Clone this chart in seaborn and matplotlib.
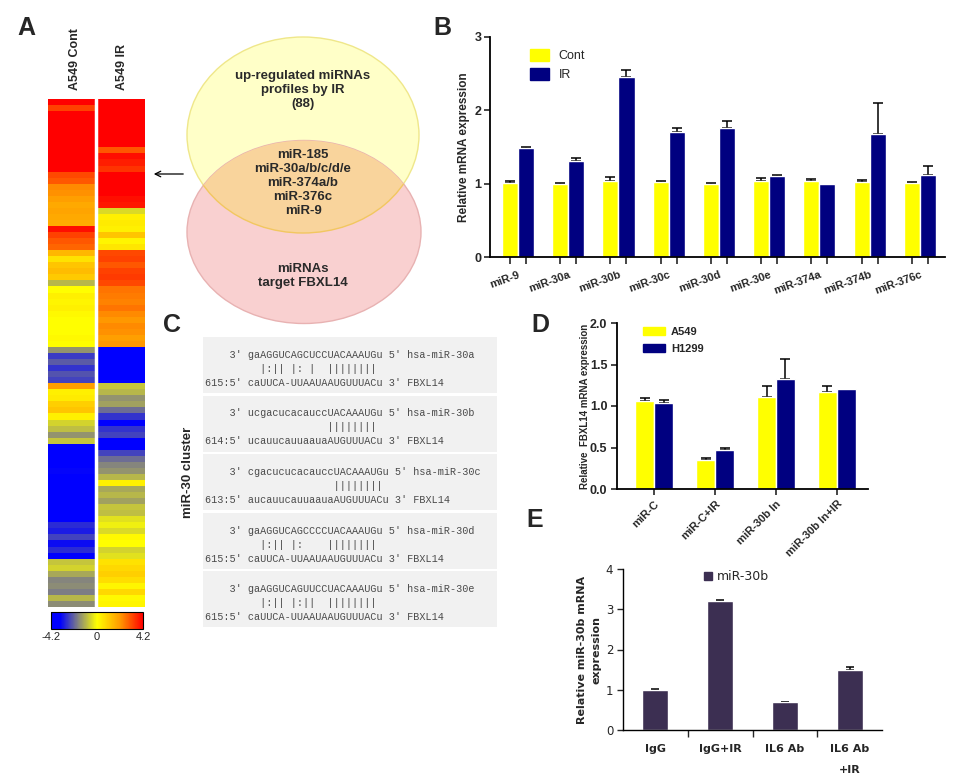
import pandas as pd
import seaborn as sns
import matplotlib.pyplot as plt
from matplotlib.colors import LinearSegmentedColormap
from matplotlib.patches import Ellipse, Rectangle, Patch
from matplotlib.container import BarContainer

sns.set_style('white')
plt.rcParams['font.family'] = ['Liberation Sans', 'DejaVu Sans']

W, H = 976, 783

# ---- A: heatmap (log2 values, -4.2 .. 4.2) ----
heat_cols = ['A549 Cont', 'A549 IR']
heat_cont = [4.2, 3.3, 4.2, 4.2, 4.2, 4.2, 4.2, 4.2, 4.2, 4.2, 4.2, 4.2,
             3.2, 3.0, 2.3, 2.2, 2.0, 1.8, 1.9, 1.8, 1.7,
             4.0, 3.3, 3.0, 2.8, 1.5, 0.6, 1.2, 1.4, 1.1,
             -1.0, 0.0, 0.3, 0.2, 0.3, 0.1, 0.0, 0.0, 0.0, 0.1, 0.0,
             -1.5, -2.6, -2.2, -2.7, -2.3, -2.5,
             2.0, 0.3, 0.4, 1.0, 1.2, 0.3, -0.6, -0.9, -1.5, -0.8,
             -3.5, -4.2, -4.2, -4.2, -3.3, -3.6, -4.2, -4.2, -4.2, -4.2, -4.2, -4.2, -4.2,
             -2.8, -3.0, -2.5, -3.2, -2.8, -3.4,
             -0.8, -0.6, -1.2, -1.7, -1.6, -1.8, -1.0, -1.6]
heat_ir = [4.2, 4.2, 4.2, 4.2, 4.2, 4.2, 4.2, 4.2,
           3.0, 4.0, 3.8, 3.5, 4.2, 4.2, 4.2, 4.2, 4.0, 3.9,
           -0.5, 0.3, 0.4, 0.3, 1.2, 0.2, 0.5,
           3.2, 3.3, 3.0, 3.3, 3.4, 3.2,
           2.6, 2.5, 2.4, 2.6, 2.3, 2.1, 2.3, 2.2, 2.0, 2.1,
           -4.2, -4.2, -4.2, -4.2, -4.2, -4.2,
           -0.8, -1.0, -1.5, -1.3, -2.0, -2.7, -4.0, -2.7, -2.5, -3.8,
           -4.0, -2.5, -2.0, -1.7, -1.5, -1.0, 0.3,
           -1.2, -1.0, -1.3, -0.8, -0.9, -0.4, -0.2, -0.5, 0.1, 0.0, -0.6, -0.4,
           0.6, 0.8, 1.0, 0.7, 0.2, 0.8, 0.1, 0.2]

venn_top = 'up-regulated miRNAs\nprofiles by IR\n(88)'
venn_mid = 'miR-185\nmiR-30a/b/c/d/e\nmiR-374a/b\nmiR-376c\nmiR-9'
venn_bottom = 'miRNAs\ntarget FBXL14'

# ---- B ----
b_mirna = ['miR-9', 'miR-30a', 'miR-30b', 'miR-30c', 'miR-30d', 'miR-30e',
           'miR-374a', 'miR-374b', 'miR-376c']
b_groups = ['Cont', 'IR']
b_cont = [1.01, 1.00, 1.03, 1.02, 1.00, 1.035, 1.035, 1.02, 1.01]
b_cont_err = [0.03, 0.01, 0.06, 0.01, 0.01, 0.04, 0.035, 0.03, 0.01]
b_ir = [1.49, 1.31, 2.46, 1.70, 1.76, 1.10, 1.00, 1.68, 1.12]
b_ir_err = [0.01, 0.04, 0.09, 0.06, 0.10, 0.02, 0.0, 0.42, 0.12]

# ---- C: miRNA / FBXL14 alignments ----
c_mir = ["    3' gaAGGUCAGCUCCUACAAAUGu 5' hsa-miR-30a",
         "    3' ucgacucacauccUACAAAUGu 5' hsa-miR-30b",
         "    3' cgacucucacauccUACAAAUGu 5' hsa-miR-30c",
         "    3' gaAGGUCAGCCCCUACAAAUGu 5' hsa-miR-30d",
         "    3' gaAGGUCAGUUCCUACAAAUGu 5' hsa-miR-30e"]
c_pair = ["         |:|| |: |  ||||||||",
          "                    ||||||||",
          "                     ||||||||",
          "         |:|| |:    ||||||||",
          "         |:|| |:||  ||||||||"]
c_target = ["615:5' caUUCA-UUAAUAAUGUUUACu 3' FBXL14",
            "614:5' ucauucauuaauaAUGUUUACu 3' FBXL14",
            "613:5' aucauucauuaauaAUGUUUACu 3' FBXL14",
            "615:5' caUUCA-UUAAUAAUGUUUACu 3' FBXL14",
            "615:5' caUUCA-UUAAUAAUGUUUACu 3' FBXL14"]

# ---- D ----
d_cond = ['miR-C', 'miR-C+IR', 'miR-30b In', 'miR-30b In+IR']
d_groups = ['A549', 'H1299']
d_a549 = [1.06, 0.35, 1.11, 1.17]
d_a549_err = [0.04, 0.02, 0.13, 0.075]
d_h1299 = [1.04, 0.47, 1.33, 1.20]
d_h1299_err = [0.03, 0.025, 0.24, 0.0]

# ---- E ----
e_cond = ['IgG', 'IgG+IR', 'IL6 Ab', 'IL6 Ab\n+IR']
e_val = [0.99, 3.21, 0.69, 1.49]
e_err = [0.02, 0.02, 0.01, 0.07]

YELLOW, NAVY, PURPLE = '#ffff00', '#000080', '#3c2f52'

fig = plt.figure(figsize=(W / 100, H / 100), dpi=100)


def box(l, t, r, b):
    return fig.add_axes([l / W, 1 - b / H, (r - l) / W, (b - t) / H])


def bar_containers(ax):
    return [c for c in ax.containers if isinstance(c, BarContainer)]


def add_errors(ax, errs_list, capsize):
    for cont, errs in zip(bar_containers(ax), errs_list):
        for bar, e in zip(cont, errs):
            if e > 0:
                ax.errorbar(bar.get_x() + bar.get_width() / 2, bar.get_height(),
                            yerr=[[0], [e]], color='black', capsize=capsize,
                            elinewidth=1.1, capthick=1.1, zorder=0.5)


# ---------- A ----------
axA = box(48, 99, 145, 607)
cax = box(51, 612, 143, 629)
heat = pd.DataFrame({heat_cols[0]: heat_cont, heat_cols[1]: heat_ir})
cmap = LinearSegmentedColormap.from_list(
    'bgyr', [(0, '#0000ff'), (0.1, '#0000ff'), (0.3, '#86867c'),
             (0.5, '#ffff00'), (0.75, '#ff9a00'), (1, '#ff0000')])
sns.heatmap(heat, ax=axA, cmap=cmap, vmin=-4.2, vmax=4.2, cbar_ax=cax,
            cbar_kws={'orientation': 'horizontal', 'ticks': [-4.2, 0, 4.2]},
            xticklabels=False, yticklabels=False)
axA.axvline(1, color='white', lw=2.5)
cb = axA.collections[0].colorbar
cb.outline.set_visible(True)
cb.outline.set_linewidth(0.8)
cb.outline.set_edgecolor('black')
cax.set_xticklabels(['-4.2', '0', '4.2'])
cax.tick_params(length=0, labelsize=8, pad=2)

# ---------- B ----------
axB = box(490, 37, 945, 257)
dfB = pd.DataFrame({'miRNA': b_mirna * 2,
                    'group': [b_groups[0]] * len(b_mirna) + [b_groups[1]] * len(b_mirna),
                    'value': b_cont + b_ir})
sns.barplot(data=dfB, x='miRNA', y='value', hue='group', palette=[YELLOW, NAVY],
            width=0.64, saturation=1, errorbar=None, legend=False, ax=axB)
centers = [b.get_x() + b.get_width() / 2 for c in bar_containers(axB) for b in c]
add_errors(axB, [b_cont_err, b_ir_err], 3.5)
axB.set_xticks(centers, minor=True)
axB.set_xlim(-0.557, 8.5)
axB.set_ylim(0, 3)
axB.set_yticks([0, 1, 2, 3])
axB.set_xticks(range(len(b_mirna)))
axB.set_xticklabels(b_mirna, rotation=20, ha='right', rotation_mode='anchor',
                    fontweight='bold', fontsize=8)
axB.tick_params(axis='x', which='major', length=0, pad=9)
axB.tick_params(axis='x', which='minor', length=5, width=1.2, bottom=True)
axB.tick_params(axis='y', length=4, width=1.2, labelsize=9, pad=2, left=True)
for t in axB.get_yticklabels():
    t.set_fontweight('bold')
axB.set_xlabel('')
axB.set_ylabel('Relative mRNA expression', fontweight='bold', fontsize=8.5)
axB.yaxis.set_label_coords(-0.043, 0.5)
sns.despine(ax=axB)
for s in ['left', 'bottom']:
    axB.spines[s].set_linewidth(1.3)
    axB.spines[s].set_color('black')
axB.legend([Patch(color=YELLOW), Patch(color=NAVY)], b_groups, loc='upper left',
           bbox_to_anchor=((530 - 490) / 455, 1 - (49 - 37) / 220), frameon=False,
           fontsize=9, handlelength=1.5, handleheight=1.12, labelspacing=0.45,
           borderpad=0, borderaxespad=0, handletextpad=0.8)

# ---------- D ----------
axD = box(617, 323, 868, 489)
dfD = pd.DataFrame({'cond': d_cond * 2,
                    'group': [d_groups[0]] * len(d_cond) + [d_groups[1]] * len(d_cond),
                    'value': d_a549 + d_h1299})
sns.barplot(data=dfD, x='cond', y='value', hue='group', palette=[YELLOW, NAVY],
            width=0.62, saturation=1, errorbar=None, legend=False, ax=axD)
add_errors(axD, [d_a549_err, d_h1299_err], 3.5)
axD.set_xlim(-0.61, 3.51)
axD.set_ylim(0, 2)
axD.set_yticks([0, 0.5, 1.0, 1.5, 2.0])
axD.set_yticklabels(['0.0', '0.5', '1.0', '1.5', '2.0'], fontweight='bold', fontsize=9)
axD.set_xticks(range(len(d_cond)))
axD.set_xticklabels(d_cond, rotation=45, ha='right', rotation_mode='anchor',
                    fontweight='bold', fontsize=8)
axD.tick_params(axis='both', length=4, width=1.2, bottom=True, left=True, pad=3)
axD.set_xlabel('')
axD.set_ylabel('Relative  FBXL14 mRNA expression', fontweight='bold', fontsize=7)
axD.yaxis.set_label_coords(-0.108, 0.5)
sns.despine(ax=axD)
for s in ['left', 'bottom']:
    axD.spines[s].set_linewidth(1.3)
    axD.spines[s].set_color('black')
axD.legend([Patch(color=YELLOW), Patch(color=NAVY)], d_groups, loc='upper left',
           bbox_to_anchor=((643 - 617) / 251, 1 - (327 - 323) / 166), frameon=False,
           prop={'weight': 'bold', 'size': 8}, handlelength=2.0, handleheight=0.7,
           labelspacing=0.6, borderpad=0, borderaxespad=0, handletextpad=0.5)

# ---------- E ----------
ef = 'DejaVu Sans'
axE = box(623, 569, 882, 730)
dfE = pd.DataFrame({'cond': e_cond, 'value': e_val})
sns.barplot(data=dfE, x='cond', y='value', color=PURPLE, width=0.4,
            saturation=1, errorbar=None, ax=axE)
add_errors(axE, [e_err], 3)
axE.set_xlim(-0.5, 3.5)
axE.set_ylim(0, 4)
axE.set_yticks([0, 1, 2, 3, 4])
axE.set_yticklabels(['0', '1', '2', '3', '4'], family=ef, fontsize=8.5)
axE.set_xticks(range(len(e_cond)))
axE.set_xticklabels(e_cond, family=ef, fontweight='bold', fontsize=8, linespacing=2.4)
axE.set_xticks([0.5, 1.5, 2.5], minor=True)
axE.tick_params(axis='x', which='major', length=0, pad=10)
axE.tick_params(axis='x', which='minor', length=5, width=1, bottom=True)
axE.tick_params(axis='y', length=4, width=1, left=True, pad=3)
axE.set_xlabel('')
axE.set_ylabel('Relative miR-30b mRNA\nexpression', family=ef, fontweight='bold',
               fontsize=8, linespacing=1.6)
axE.yaxis.set_label_coords(-0.082, 0.5)
sns.despine(ax=axE)
for s in ['left', 'bottom']:
    axE.spines[s].set_linewidth(1)
    axE.spines[s].set_color('black')
axE.legend([Patch(color=PURPLE)], ['miR-30b'], loc='center left',
           bbox_to_anchor=((704 - 623) / 259, 1 - (577 - 569) / 161), frameon=False,
           prop={'family': ef, 'size': 9}, handlelength=0.6, handleheight=0.6,
           borderpad=0, borderaxespad=0, handletextpad=0.4)

# ---------- overlay: Venn, alignments, labels ----------
ov = fig.add_axes([0, 0, 1, 1])
ov.set_xlim(0, W)
ov.set_ylim(H, 0)
ov.axis('off')

yel = Ellipse((303, 135), 232, 196, fc='#ffffc8', ec='#efe78a', lw=1)
pink = Ellipse((304, 232), 234, 183, fc='#f9d0d0', ec='#e8b2b2', lw=1)
inter = Ellipse((303, 135), 232, 196, fc='#f9d49c', ec='#f2c760', lw=1)
ov.add_patch(yel)
ov.add_patch(pink)
ov.add_patch(inter)
inter.set_clip_path(pink)
vt = dict(ha='center', va='center', fontweight='bold', fontsize=9.5, color='#2a2a2a',
          linespacing=1.2)
ov.text(303, 90, venn_top, **vt)
ov.text(303, 183, venn_mid, **vt)
ov.text(303, 276, venn_bottom, **vt)

ov.text(75, 90, heat_cols[0], rotation=90, ha='center', va='bottom',
        fontweight='bold', fontsize=9)
ov.text(122, 90, heat_cols[1], rotation=90, ha='center', va='bottom',
        fontweight='bold', fontsize=9)
ov.annotate('', xy=(151, 174), xytext=(186, 174),
            arrowprops=dict(arrowstyle='->', lw=0.9, color='black'))

for i in range(len(c_mir)):
    top = 337 + i * 58.5
    ov.add_patch(Rectangle((203, top), 294, 56, fc='#f1f1f1', ec='none'))
    for j, line in enumerate([c_mir[i], c_pair[i], c_target[i]]):
        ov.text(205, top + 18 + 14 * j, line, family='Liberation Mono', fontsize=7.3,
                va='center', ha='left', color='#4a4a4a')
ov.text(188, 472, 'miR-30 cluster', rotation=90, ha='center', va='center',
        fontweight='bold', fontsize=9.5)

for lab, x, y in [('A', 26, 28), ('B', 442, 28), ('C', 172, 325),
                  ('D', 540, 325), ('E', 535, 520)]:
    ov.text(x, y, lab, ha='center', va='center', fontweight='bold', fontsize=18)

fig.savefig('out.png', dpi=100)
